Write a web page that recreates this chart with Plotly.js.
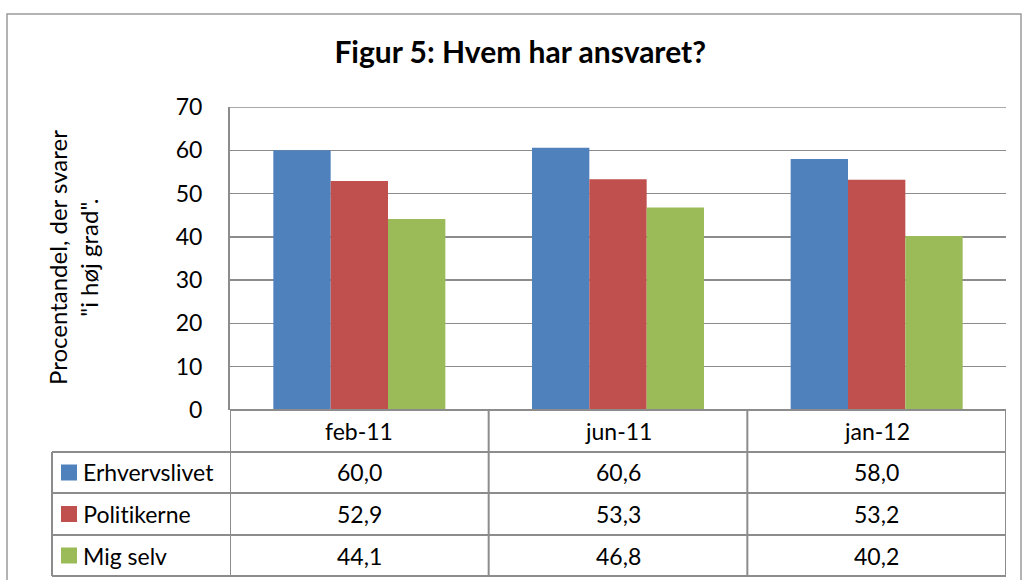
<!DOCTYPE html>
<html>
<head>
<meta charset="utf-8">
<script src="https://cdn.plot.ly/plotly-3.0.1.min.js"></script>
<style>
html,body{margin:0;padding:0;background:#fff;}
#chart{width:1022px;height:580px;}
#chart text{font-variant-ligatures:none;font-feature-settings:"liga" 0;}
</style>
</head>
<body>
<div id="chart"></div>
<script>
const categories = ["feb-11", "jun-11", "jan-12"];
const seriesNames = ["Erhvervslivet", "Politikerne", "Mig selv"];
const erhvervslivet = [60.0, 60.6, 58.0];
const politikerne = [52.9, 53.3, 53.2];
const migSelv = [44.1, 46.8, 40.2];
const yTicks = [0, 10, 20, 30, 40, 50, 60, 70];

const seriesValues = [erhvervslivet, politikerne, migSelv];
const colors = ["#4F81BD", "#C0504D", "#9BBB59"];
const FONT = "Lato, 'Open Sans', sans-serif";
const FS = 23;
const lineColor = "#8C8C8C";

// plot area in pixels
const L = 230, R = 1006, T = 107, B = 410;
const W = R - L, H = B - T;
const px = p => (p - L) / W;
const py = p => (B - p) / H;

const traces = seriesValues.map((vals, i) => ({
  type: "bar",
  name: seriesNames[i],
  x: categories.map((c, k) => k),
  y: vals,
  marker: {color: colors[i], line: {width: 0}},
  hoverinfo: "y"
}));

const shapes = [];
const annotations = [];

// outer frame
shapes.push({type: "rect", xref: "paper", yref: "paper",
  x0: px(7), x1: px(1021), y0: py(14), y1: py(620),
  line: {color: "#9A9A9A", width: 1.5}, fillcolor: "rgba(0,0,0,0)"});

// top gridline at max of range
shapes.push({type: "line", xref: "paper", yref: "y", x0: 0, x1: 1, y0: yTicks[yTicks.length - 1], y1: yTicks[yTicks.length - 1],
  line: {color: lineColor, width: 1.5}});

// table rows (pixel positions)
const rowTop = [410, 452, 493, 535];
const rowBottom = 576;
const legendLeft = 52;

[452, 493, 535, rowBottom].forEach(yy => {
  shapes.push({type: "line", xref: "paper", yref: "paper", x0: px(legendLeft), x1: 1, y0: py(yy), y1: py(yy), line: {color: lineColor, width: 2}});
});
shapes.push({type: "line", xref: "paper", yref: "paper", x0: px(legendLeft), x1: px(legendLeft), y0: py(452), y1: py(rowBottom), line: {color: lineColor, width: 2}});
for (let k = 0; k <= categories.length; k++) {
  shapes.push({type: "line", xref: "x", yref: "paper", x0: k - 0.5, x1: k - 0.5, y0: 0, y1: py(rowBottom), line: {color: lineColor, width: 2}});
}
// x axis line at 0
shapes.push({type: "line", xref: "paper", yref: "paper", x0: 0, x1: 1, y0: 0, y1: 0, line: {color: lineColor, width: 2}});

// header row category labels
categories.forEach((c, k) => {
  annotations.push({xref: "x", yref: "paper", x: k, y: py((410 + 452) / 2), text: c, showarrow: false,
    xanchor: "center", yanchor: "middle", font: {family: FONT, size: FS, color: "#000"}});
});

// data rows
seriesValues.forEach((vals, i) => {
  const yc = (rowTop[i + 1] + (i + 2 < rowTop.length ? rowTop[i + 2] : rowBottom)) / 2;
  shapes.push({type: "rect", xref: "paper", yref: "paper",
    x0: px(61), x1: px(77), y0: py(yc - 8), y1: py(yc + 8),
    fillcolor: colors[i], line: {width: 0}});
  annotations.push({xref: "paper", yref: "paper", x: px(81), y: py(yc), text: seriesNames[i], showarrow: false,
    xanchor: "left", yanchor: "middle", font: {family: FONT, size: FS, color: "#000"}});
  vals.forEach((v, k) => {
    annotations.push({xref: "x", yref: "paper", x: k, y: py(yc), text: v.toFixed(1).replace(".", ","), showarrow: false,
      xanchor: "center", yanchor: "middle", font: {family: FONT, size: FS, color: "#000"}});
  });
});

// y-axis title
annotations.push({xref: "paper", yref: "paper", x: px(73), y: py(258), text: "Procentandel, der svarer<br>\"i høj grad\".",
  showarrow: false, textangle: -90, xanchor: "center", yanchor: "middle",
  font: {family: FONT, size: 24, color: "#000"}});

const layout = {
  width: 1022, height: 580,
  margin: {l: L, r: 1022 - R, t: T, b: 580 - B, pad: 0},
  paper_bgcolor: "#fff", plot_bgcolor: "#fff",
  barmode: "group", bargap: 0.335, bargroupgap: 0,
  showlegend: false,
  title: {text: "<b>Figur 5: Hvem har ansvaret?</b>", x: 0.509, xanchor: "center", y: 1 - 52 / 580, yanchor: "middle",
    font: {family: FONT, size: 30, color: "#000"}},
  xaxis: {range: [-0.5, 2.5], showticklabels: false, showgrid: false, zeroline: false,
    showline: false, ticks: "", fixedrange: true},
  yaxis: {range: [0, 70], tickvals: yTicks, ticktext: yTicks.map(String), showgrid: true, gridcolor: lineColor, gridwidth: 1.5,
    zeroline: false, showline: true, linecolor: lineColor, linewidth: 2,
    ticks: "outside", ticklen: 21, tickcolor: "rgba(0,0,0,0)",
    tickfont: {family: FONT, size: FS, color: "#000"}, fixedrange: true},
  shapes: shapes,
  annotations: annotations
};

Plotly.newPlot("chart", traces, layout, {displayModeBar: false, staticPlot: true});
</script>
</body>
</html>
